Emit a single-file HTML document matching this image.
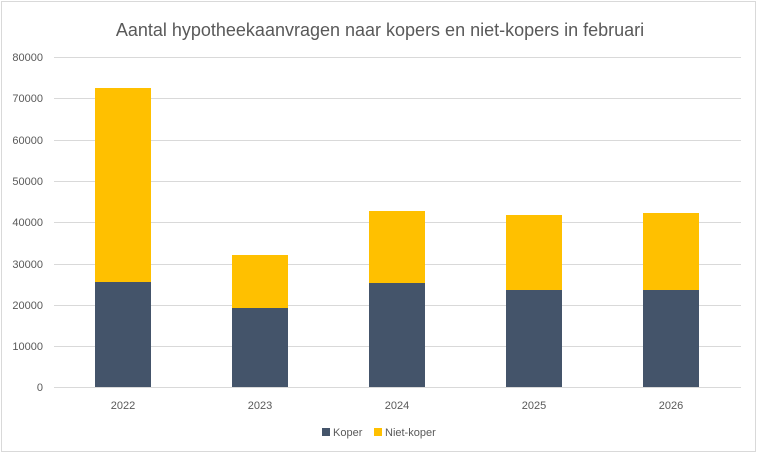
<!DOCTYPE html>
<html><head><style>
body{margin:0;background:#fff;}
svg{display:block;font-family:"Liberation Sans",sans-serif;}
</style></head><body>
<svg width="757" height="455" xmlns="http://www.w3.org/2000/svg">
<rect x="1.5" y="1.5" width="754" height="450" fill="#fff" stroke="#d9d9d9"/>
<text x="380" y="36" text-anchor="middle" font-size="18" fill="#595959">Aantal hypotheekaanvragen naar kopers en niet-kopers in februari</text>
<g stroke="#d9d9d9" stroke-width="1">
<line x1="54" x2="741" y1="57.5" y2="57.5"/>
<line x1="54" x2="741" y1="98.5" y2="98.5"/>
<line x1="54" x2="741" y1="140.5" y2="140.5"/>
<line x1="54" x2="741" y1="181.5" y2="181.5"/>
<line x1="54" x2="741" y1="222.5" y2="222.5"/>
<line x1="54" x2="741" y1="264.5" y2="264.5"/>
<line x1="54" x2="741" y1="305.5" y2="305.5"/>
<line x1="54" x2="741" y1="346.5" y2="346.5"/>
<line x1="54" x2="741" y1="387.5" y2="387.5"/>
</g>
<g font-size="11" fill="#595959" text-anchor="end">
<text x="43" y="61">80000</text>
<text x="43" y="102">70000</text>
<text x="43" y="144">60000</text>
<text x="43" y="185">50000</text>
<text x="43" y="226">40000</text>
<text x="43" y="268">30000</text>
<text x="43" y="309">20000</text>
<text x="43" y="350">10000</text>
<text x="43" y="391">0</text>
</g>
<g fill="#FFC000">
<rect x="95" y="88" width="56" height="194"/>
<rect x="232" y="255" width="56" height="53"/>
<rect x="369" y="211" width="56" height="72"/>
<rect x="506" y="215" width="56" height="75"/>
<rect x="643" y="213" width="56" height="77"/>
</g>
<g fill="#44546A">
<rect x="95" y="282" width="56" height="105"/>
<rect x="232" y="308" width="56" height="79"/>
<rect x="369" y="283" width="56" height="104"/>
<rect x="506" y="290" width="56" height="97"/>
<rect x="643" y="290" width="56" height="97"/>
</g>
<g font-size="11" fill="#595959" text-anchor="middle">
<text x="123" y="409">2022</text>
<text x="260" y="409">2023</text>
<text x="397" y="409">2024</text>
<text x="534" y="409">2025</text>
<text x="671" y="409">2026</text>
</g>
<rect x="322" y="428" width="8" height="8" fill="#44546A"/>
<text x="333" y="436" font-size="11" fill="#595959">Koper</text>
<rect x="374" y="428" width="8" height="8" fill="#FFC000"/>
<text x="385" y="436" font-size="11" fill="#595959">Niet-koper</text>
</svg>
</body></html>
